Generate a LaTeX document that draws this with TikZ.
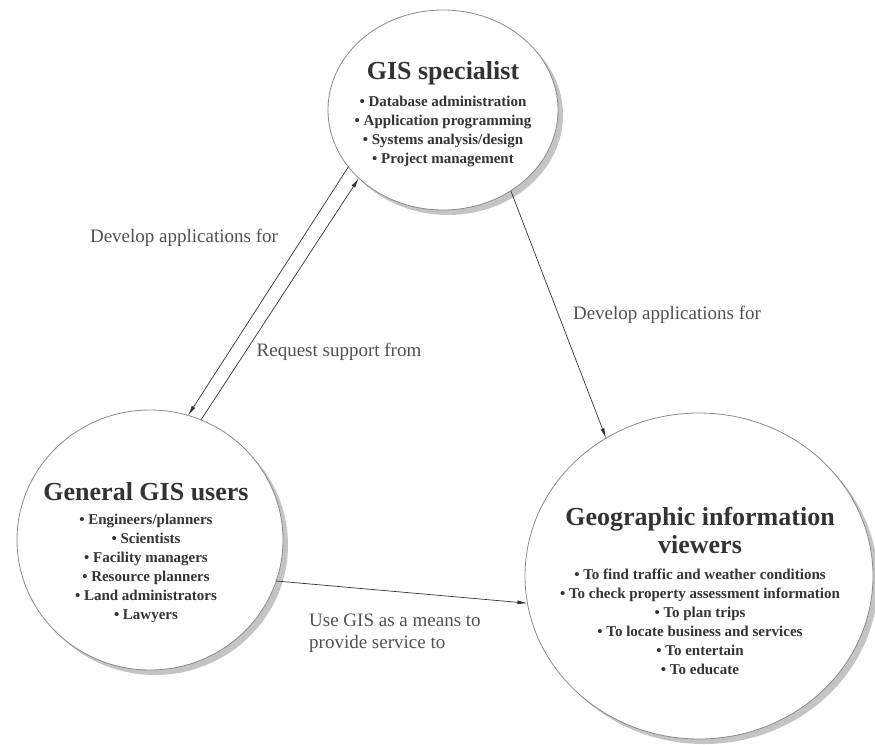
\documentclass[tikz,border=0pt]{standalone}
\usepackage{fontspec}
\setmainfont{Liberation Serif}
\usetikzlibrary{shapes.geometric,arrows.meta,shadows}
\definecolor{ink}{HTML}{333333}
\definecolor{lab}{HTML}{505050}
\definecolor{rim}{HTML}{8A8A8A}
\definecolor{shade}{HTML}{C4C4C4}
\begin{document}
\begin{tikzpicture}[x=1pt,y=-1pt,
  bubble/.style={ellipse, draw=rim, line width=0.8pt, fill=white, inner sep=0pt, outer sep=0pt,
    drop shadow={shadow xshift=5pt, shadow yshift=-5pt, fill=shade, opacity=1}},
  ttl/.style={font=\bfseries\fontsize{26}{28}\selectfont, text=ink, align=center, inner sep=0pt},
  lst/.style={font=\bfseries\fontsize{15}{19}\selectfont, text=ink, align=center, inner sep=0pt},
  lbl/.style={font=\fontsize{19}{22}\selectfont, text=lab, inner sep=0pt},
  link/.style={draw=ink, line width=0.7pt, -{Latex[length=10pt,width=4pt]}}]
\useasboundingbox (0,0) rectangle (875,744);
% circles
\node[bubble, minimum width=230pt, minimum height=200pt] (spec) at (443,110) {};
\node[bubble, minimum width=266pt, minimum height=260pt] (users) at (150,540) {};
\node[bubble, minimum width=348pt, minimum height=326pt] (view) at (699,576) {};
% circle texts
\node[ttl] (specT) at (443,73) {GIS specialist};
\node[lst] (specL) at (443,131.5) {• Database administration\\• Application programming\\• Systems analysis/design\\• Project management};
\node[ttl] (usersT) at (146,492) {General GIS users};
\node[lst] (usersL) at (146,568) {• Engineers/planners\\• Scientists\\• Facility managers\\• Resource planners\\• Land administrators\\• Lawyers};
\node[ttl] (viewT) at (700,530) {Geographic information\\viewers};
\node[lst] (viewL) at (700,622) {• To find traffic and weather conditions\\• To check property assessment information\\• To plan trips\\• To locate business and services\\• To entertain\\• To educate};
% labels
\node[lbl] (l1) at (184,238) {Develop applications for};
\node[lbl] (l2) at (339,352) {Request support from};
\node[lbl] (l3) at (667,315) {Develop applications for};
\node[lbl, align=left, anchor=west] (l4) at (309,633) {Use GIS as a means to\\provide service to};
% connectors
\draw[link] (spec.211.6) -- (users.73.8);
\draw[link] (users.67) -- (spec.219.6);
\draw[link] (spec.310.1) -- (view.124.2);
\draw[link] (users.342) -- (view.189.2);
\end{tikzpicture}
\end{document}
